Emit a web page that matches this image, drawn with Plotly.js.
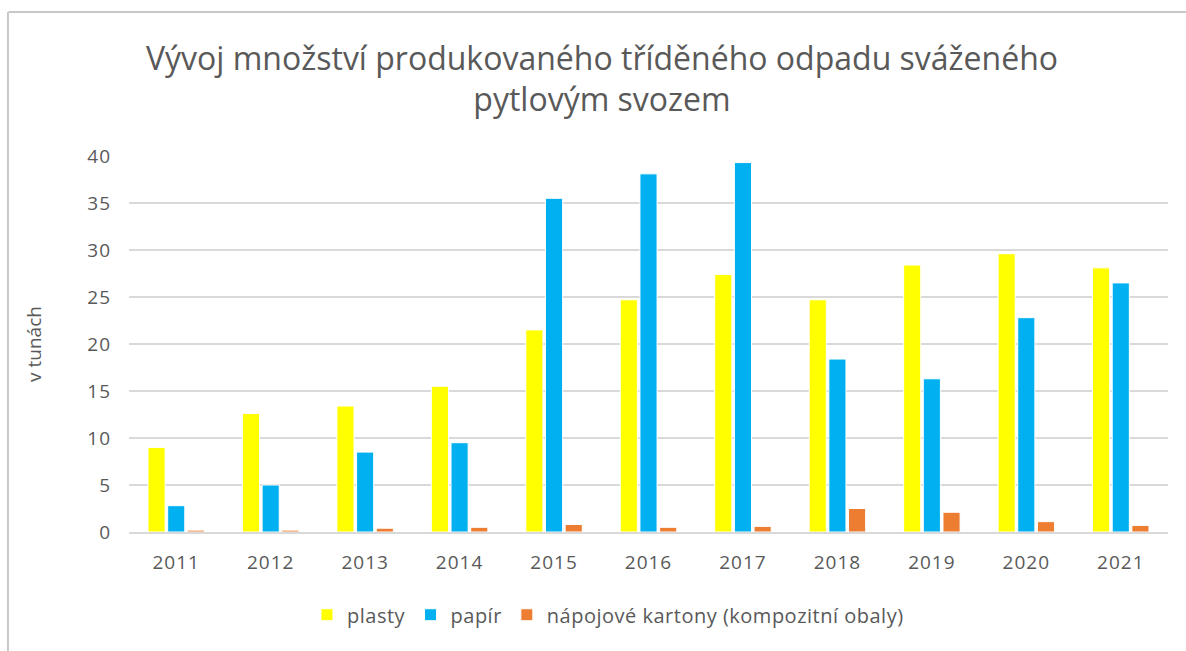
<!DOCTYPE html>
<html><head><meta charset="utf-8">
<script src="https://cdn.plot.ly/plotly-3.0.1.min.js"></script>
<style>html,body{margin:0;padding:0;background:#fff;}#chart{width:1186px;height:651px;}
.xtick text,.ytick text{letter-spacing:1px;}
</style>
</head><body><div id="chart"></div>
<script>
const years = ['2011','2012','2013','2014','2015','2016','2017','2018','2019','2020','2021'];
const plasty = [9.0, 12.6, 13.4, 15.5, 21.5, 24.7, 27.4, 24.7, 28.4, 29.6, 28.1];
const papir = [2.8, 5.0, 8.5, 9.5, 35.5, 38.1, 39.3, 18.4, 16.3, 22.8, 26.5];
const kartony = [0.2, 0.2, 0.4, 0.5, 0.8, 0.5, 0.6, 2.5, 2.1, 1.1, 0.7];
const names = ['plasty', 'papír', 'nápojové kartony (kompozitní obaly)'];
const colors = ['#FFFF00', '#00B0F0', '#ED7D31'];
const yTicks = [0,5,10,15,20,25,30,35,40];

const font = 'Open Sans, Liberation Sans, sans-serif';
const series = [plasty, papir, kartony];
const data = series.map((v, i) => ({
  type: 'bar', x: years, y: v,
  name: '<span style="letter-spacing:0.5px">' + names[i] + '</span>',
  marker: {color: colors[i], line: {color: '#ffffff', width: 1}},
  hoverinfo: 'skip'
}));

const layout = {
  width: 1186, height: 651,
  margin: {l: 129, r: 18, t: 156, b: 119},
  paper_bgcolor: '#fff', plot_bgcolor: '#fff',
  font: {family: font, color: '#595959'},
  title: {text: 'Vývoj množství produkovaného tříděného odpadu sváženého<br>pytlovým svozem',
    font: {family: font, size: 32, color: '#595959'}, xref: 'container', x: 0.5076, xanchor: 'center', y: 0.893, yanchor: 'middle'},
  bargap: 0.375, bargroupgap: 0.13, barmode: 'group',
  xaxis: {type: 'category', showgrid: false, showline: true, linecolor: '#d9d9d9', linewidth: 2,
    ticks: '', ticklabelstandoff: 12, tickfont: {size: 19, color: '#595959'}, fixedrange: true},
  yaxis: {range: [0, 40], tickvals: yTicks, ticktext: yTicks.map(String), showgrid: true,
    gridcolor: '#d9d9d9', gridwidth: 2, zeroline: false, showline: false, ticks: '',
    ticklabelstandoff: 17,
    tickfont: {size: 19, color: '#595959'},
    title: {text: 'v tunách', font: {size: 19, color: '#595959'}, standoff: 40}},
  legend: {orientation: 'h', x: 0.461, xanchor: 'center', y: -0.22, yanchor: 'middle',
    font: {size: 20, color: '#595959'}, itemwidth: 30, traceorder: 'normal'},
  shapes: [
    {type: 'line', xref: 'paper', yref: 'paper', x0: -0.116, x1: 1.05, y0: 1.383, y1: 1.383,
      line: {color: '#c8c8c8', width: 2}},
    {type: 'line', xref: 'paper', yref: 'paper', x0: -0.1165, x1: -0.1165, y0: -0.5, y1: 1.383,
      line: {color: '#c8c8c8', width: 2}}
  ],
  showlegend: true
};
Plotly.newPlot('chart', data, layout, {displayModeBar: false, staticPlot: true});
</script></body></html>
